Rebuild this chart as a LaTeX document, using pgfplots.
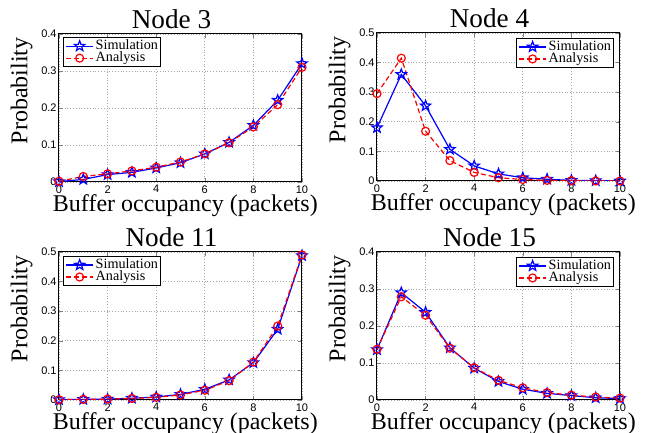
\documentclass[border=0pt]{standalone}
\usepackage{fontspec}
\setmainfont{Liberation Serif}
\setsansfont{Liberation Sans}
\usepackage{pgfplots}
\pgfplotsset{compat=1.18}

% MATLAB-like outlined five-point star
\pgfdeclareplotmark{pentagram}{%
  \pgfpathmoveto{\pgfpointpolar{90}{\pgfplotmarksize}}%
  \pgfpathlineto{\pgfpointpolar{126}{0.42\pgfplotmarksize}}%
  \pgfpathlineto{\pgfpointpolar{162}{\pgfplotmarksize}}%
  \pgfpathlineto{\pgfpointpolar{198}{0.42\pgfplotmarksize}}%
  \pgfpathlineto{\pgfpointpolar{234}{\pgfplotmarksize}}%
  \pgfpathlineto{\pgfpointpolar{270}{0.42\pgfplotmarksize}}%
  \pgfpathlineto{\pgfpointpolar{306}{\pgfplotmarksize}}%
  \pgfpathlineto{\pgfpointpolar{342}{0.42\pgfplotmarksize}}%
  \pgfpathlineto{\pgfpointpolar{18}{\pgfplotmarksize}}%
  \pgfpathlineto{\pgfpointpolar{54}{0.42\pgfplotmarksize}}%
  \pgfpathclose
  \pgfusepathqstroke
}

\pgfplotsset{
  panel/.style={
    width=121.5pt, height=74pt, scale only axis,
    xmin=0, xmax=10, ymin=0,
    xtick={0,2,4,6,8,10},
    tick align=inside, tick pos=both, major tick length=2pt,
    grid=major, major grid style={densely dotted, gray!70, line width=0.3pt},
    axis line style={line width=0.5pt},
    ticklabel style={font=\sffamily\fontsize{5.5}{6}\selectfont},
    /pgf/number format/assume math mode=true,
    xticklabel style={inner sep=0pt, yshift=-1.5pt},
    yticklabel style={inner sep=0pt, xshift=-1pt},
    xlabel={Buffer occupancy (packets)},
    ylabel={Probability},
    label style={font=\fontsize{12}{14}\selectfont},
    xlabel style={at={(axis description cs:0.52,0)}, anchor=north, inner sep=0pt, yshift=-6pt},
    ylabel style={at={(axis description cs:-0.107,0.615)}, anchor=south, inner sep=0pt},
    every axis title/.style={at={(axis description cs:0.463,1)}, anchor=base, yshift=2.8pt,
      font=\fontsize{13.6}{15}\selectfont, inner sep=0pt},
    legend style={font=\fontsize{7.1}{6}\selectfont, draw=black, line width=0.5pt,
      inner sep=1.2pt, row sep=0pt, column sep=1pt,
      nodes={inner sep=0pt, text height=4.8pt, text depth=1.2pt},
      cells={anchor=west}},
    legend image code/.code={\draw[mark repeat=2,mark phase=2]
      plot coordinates {(0pt,0pt)(6.75pt,0pt)(13.5pt,0pt)};},
  },
  sim/.style={blue, line width=0.6pt, mark=pentagram, mark size=2.7pt, mark options={solid}},
  ana/.style={red, line width=0.6pt, dash pattern=on 2.5pt off 1.5pt, mark=o, mark size=2pt, mark options={solid}},
}

\begin{document}
\begin{tikzpicture}

% Node 3
\begin{axis}[panel, at={(29.5pt,-17pt)}, anchor=north west,
  title={Node 3}, ymax=0.4, ytick={0,0.1,0.2,0.3,0.4},
  legend style={at={(axis description cs:0.015,0.978)}, anchor=north west}]
\addplot[sim] coordinates {
(0,0.001)(1,0.007)(2,0.020)(3,0.026)(4,0.038)(5,0.052)(6,0.076)(7,0.107)(8,0.153)(9,0.221)(10,0.320)};
\addplot[ana] coordinates {
(0,0.002)(1,0.015)(2,0.022)(3,0.030)(4,0.040)(5,0.054)(6,0.076)(7,0.106)(8,0.149)(9,0.209)(10,0.310)};
\legend{Simulation,Analysis}
\end{axis}

% Node 4
\begin{axis}[panel, at={(188.5pt,-16.5pt)}, anchor=north west,
  title={Node 4}, ymax=0.5, ytick={0,0.1,0.2,0.3,0.4,0.5},
  legend style={at={(axis description cs:0.975,0.966)}, anchor=north east}]
\addplot[sim] coordinates {
(0,0.180)(1,0.360)(2,0.254)(3,0.107)(4,0.051)(5,0.024)(6,0.011)(7,0.006)(8,0.002)(9,0.001)(10,0.000)};
\addplot[ana] coordinates {
(0,0.295)(1,0.415)(2,0.168)(3,0.069)(4,0.029)(5,0.011)(6,0.005)(7,0.002)(8,0.001)(9,0.000)(10,0.000)};
\legend{Simulation,Analysis}
\end{axis}

% Node 11
\begin{axis}[panel, at={(29.5pt,-126pt)}, anchor=north west,
  title={Node 11}, ymax=0.5, ytick={0,0.1,0.2,0.3,0.4,0.5},
  legend style={at={(axis description cs:0.015,0.972)}, anchor=north west}]
\addplot[sim] coordinates {
(0,0.001)(1,0.002)(2,0.003)(3,0.006)(4,0.010)(5,0.019)(6,0.036)(7,0.068)(8,0.126)(9,0.239)(10,0.488)};
\addplot[ana] coordinates {
(0,0.001)(1,0.002)(2,0.003)(3,0.005)(4,0.009)(5,0.017)(6,0.033)(7,0.065)(8,0.128)(9,0.250)(10,0.490)};
\legend{Simulation,Analysis}
\end{axis}

% Node 15
\begin{axis}[panel, at={(188.5pt,-126pt)}, anchor=north west,
  title={Node 15}, ymax=0.4, ytick={0,0.1,0.2,0.3,0.4},
  legend style={at={(axis description cs:0.975,0.966)}, anchor=north east}]
\addplot[sim] coordinates {
(0,0.136)(1,0.290)(2,0.237)(3,0.141)(4,0.086)(5,0.050)(6,0.029)(7,0.018)(8,0.012)(9,0.006)(10,0.004)};
\addplot[ana] coordinates {
(0,0.137)(1,0.279)(2,0.229)(3,0.140)(4,0.087)(5,0.053)(6,0.033)(7,0.020)(8,0.013)(9,0.008)(10,0.005)};
\legend{Simulation,Analysis}
\end{axis}

\pgfresetboundingbox
\path[use as bounding box] (0pt,0pt) rectangle (325pt,-216.5pt);
\end{tikzpicture}
\end{document}
